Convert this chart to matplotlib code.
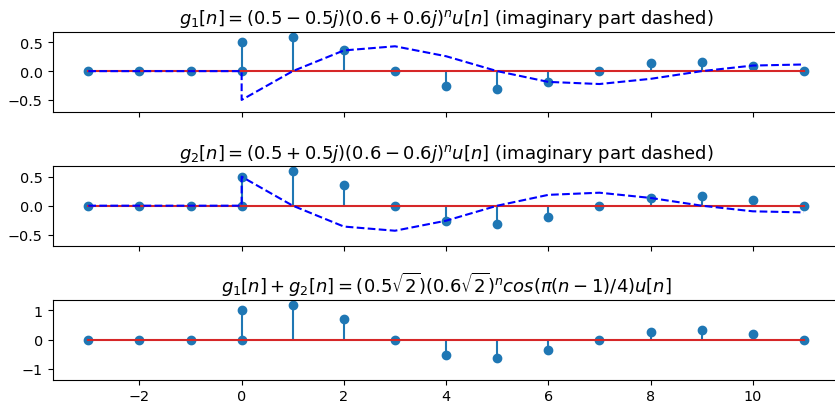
import numpy as np
from matplotlib import pyplot as plt

# sample index (n = 0 appears twice: end of the zero part, start of the causal part)
n = [-3, -2, -1, 0, 0, 1, 2, 3, 4, 5, 6, 7, 8, 9, 10, 11]

g1_real = [0, 0, 0, 0, 0.5, 0.6, 0.36, 0.0, -0.259, -0.311, -0.187, 0.0, 0.134, 0.161, 0.097, 0.0]
g1_imag = [0, 0, 0, 0, -0.5, 0.0, 0.36, 0.432, 0.259, 0.0, -0.187, -0.224, -0.134, 0.0, 0.097, 0.116]

g2_real = [0, 0, 0, 0, 0.5, 0.6, 0.36, 0.0, -0.259, -0.311, -0.187, 0.0, 0.134, 0.161, 0.097, 0.0]
g2_imag = [0, 0, 0, 0, 0.5, 0.0, -0.36, -0.432, -0.259, 0.0, 0.187, 0.224, 0.134, 0.0, -0.097, -0.116]

g_sum = [0, 0, 0, 0, 1.0, 1.2, 0.72, 0.0, -0.518, -0.622, -0.373, 0.0, 0.269, 0.322, 0.193, 0.0]

titles = [
    r"$g_1[n] = (0.5-0.5j)(0.6+0.6j)^nu[n]$ (imaginary part dashed)",
    r"$g_2[n] = (0.5+0.5j)(0.6-0.6j)^nu[n]$ (imaginary part dashed)",
    r"$g_1[n] + g_2[n] = (0.5\sqrt{2})(0.6\sqrt{2})^ncos(\pi(n-1)/4)u[n]$",
]

plt.rcParams["axes.titlesize"] = 13
plt.rcParams["xtick.labelsize"] = 10.4
plt.rcParams["ytick.labelsize"] = 10.4

fig = plt.figure(figsize=(8.35, 4.06), dpi=100)

# axes run a little past the right edge of the figure, like the original crop
left, width = 0.0629, 0.9427
ax1 = fig.add_axes([left, 0.7224, width, 0.197])
ax2 = fig.add_axes([left, 0.3924, width, 0.1956], sharex=ax1)
ax3 = fig.add_axes([left, 0.0623, width, 0.1963], sharex=ax1)

ax1.stem(n, g1_real)
ax1.plot(n, g1_imag, "b--")
ax1.set_title(titles[0])
ax1.set_ylim(-0.705, 0.685)

ax2.stem(n, g2_real)
ax2.plot(n, g2_imag, "b--")
ax2.set_title(titles[1])
ax2.set_ylim(-0.69, 0.68)

ax3.stem(n, g_sum)
ax3.set_title(titles[2])
ax3.set_ylim(-1.38, 1.36)

ax1.set_xlim(-3.7, 11.7)
ax1.tick_params(labelbottom=False)
ax2.tick_params(labelbottom=False)

plt.savefig("out.png")
